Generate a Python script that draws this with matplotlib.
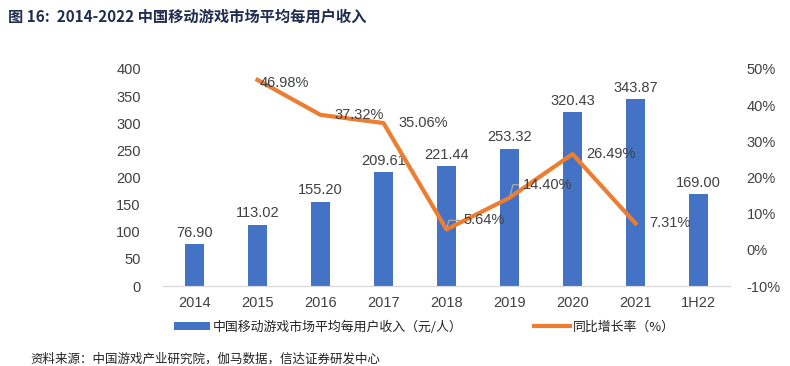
import matplotlib.pyplot as plt
import numpy

plt.rcParams['font.family'] = ['Noto Sans CJK SC', 'DejaVu Sans']

years = ["2014", "2015", "2016", "2017", "2018", "2019", "2020", "2021", "1H22"]
arpu = [76.90, 113.02, 155.20, 209.61, 221.44, 253.32, 320.43, 343.87, 169.00]
growth_years = ["2015", "2016", "2017", "2018", "2019", "2020", "2021"]
growth = [46.98, 37.32, 35.06, 5.64, 14.40, 26.49, 7.31]

bar_color = "#4472c4"
line_color = "#ed7d31"
text_color = "#404040"
latin_font = ["Liberation Sans", "DejaVu Sans"]

figure = plt.figure(figsize=(7.9, 3.66), dpi=100)
axis_left = figure.add_axes([163 / 790, 1 - 286 / 366, (730 - 163) / 790, (286 - 69) / 366])
axis_right = axis_left.twinx()

x_positions = numpy.arange(len(years))
axis_left.bar(x_positions, arpu, width=0.31, color=bar_color, zorder=2,
              label="中国移动游戏市场平均每用户收入（元/人）")
for x, value in zip(x_positions, arpu):
    axis_left.text(x, value + 8, "%.2f" % value, ha="center", va="bottom", fontsize=10.5,
                   color=text_color, family=latin_font)

growth_x = [years.index(y) for y in growth_years]
axis_right.plot(growth_x, growth, color=line_color, linewidth=3, zorder=3,
                label="同比增长率（%）")
# 标签相对数据点的偏移 (x 单位, 百分点)，部分标签带引导线
label_offsets = [(0.03, -0.8), (0.22, 0.0), (0.24, 0.0), (0.27, 2.5), (0.21, 3.6), (0.22, 0.0), (0.22, 0.0)]
leader_lines = [False, False, False, True, True, False, False]
for x, value, offset, leader in zip(growth_x, growth, label_offsets, leader_lines):
    arrow = None
    if leader:
        arrow = dict(arrowstyle="-", color="#a6a6a6", linewidth=1, relpos=(0, 0.5), shrinkA=1, shrinkB=2,
                     connectionstyle="angle,angleA=0,angleB=75,rad=0")
    axis_right.annotate("%.2f%%" % value, xy=(x, value), xytext=(x + offset[0], value + offset[1]),
                        ha="left", va="center", fontsize=10.5, color=text_color, family=latin_font,
                        zorder=4, arrowprops=arrow)

axis_left.set_ylim(0, 400)
axis_left.set_yticks(range(0, 401, 50))
axis_right.set_ylim(-10, 50)
axis_right.set_yticks(range(-10, 51, 10))
axis_right.set_yticklabels(["%d%%" % v for v in range(-10, 51, 10)])
axis_left.set_xlim(-0.5, len(years) - 0.5)
axis_left.set_xticks(x_positions)
axis_left.set_xticklabels(years)

for axis in (axis_left, axis_right):
    for side in ("top", "left", "right"):
        axis.spines[side].set_visible(False)
    axis.spines["bottom"].set_color("#d9d9d9")
    axis.tick_params(length=0, labelsize=10.5, colors=text_color)
    for label in axis.get_xticklabels() + axis.get_yticklabels():
        label.set_family(latin_font)
axis_left.tick_params(axis="y", pad=16)
axis_right.tick_params(axis="y", pad=12)
axis_left.tick_params(axis="x", pad=7)

handles_left, labels_left = axis_left.get_legend_handles_labels()
handles_right, labels_right = axis_right.get_legend_handles_labels()
figure.legend(handles_left + handles_right, labels_left + labels_right, loc="center",
              bbox_to_anchor=(0.537, 1 - 327 / 366), ncol=2, frameon=False, fontsize=9.3,
              handlelength=2.8, handleheight=0.5, columnspacing=5.5, handletextpad=0.2,
              labelcolor="#222222")

figure.text(8 / 790, 1 - 17 / 366, "图 16:  2014-2022 中国移动游戏市场平均每用户收入", ha="left", va="center",
            fontsize=11, fontweight="bold", color="#1f2d50")
figure.text(30 / 790, 1 - 359 / 366, "资料来源：中国游戏产业研究院，伽马数据，信达证券研发中心", ha="left",
            va="center", fontsize=9, style="italic", color="#222222")

figure.savefig("out.png")
